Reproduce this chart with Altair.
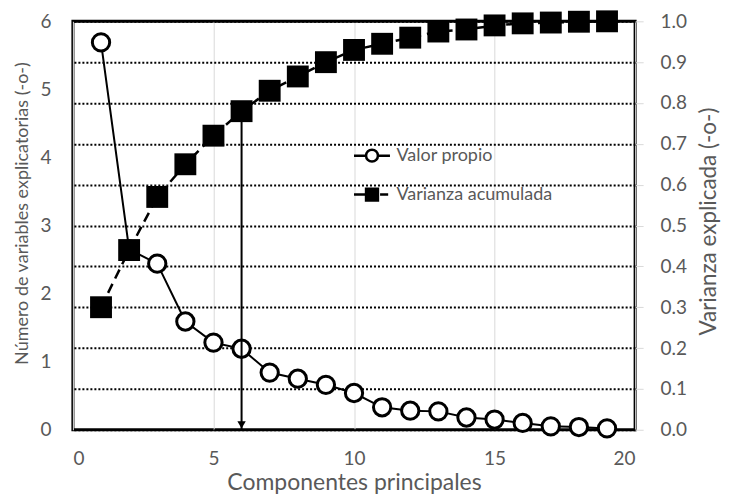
import altair as alt
import pandas as pd

# ---- data ----
componentes = list(range(1, 20))
valor_propio = [5.69, 2.65, 2.44, 1.59, 1.28, 1.19, 0.84, 0.75, 0.66, 0.54,
                0.33, 0.28, 0.27, 0.18, 0.15, 0.10, 0.05, 0.04, 0.02]
varianza_acumulada = [0.30, 0.44, 0.57, 0.65, 0.72, 0.78, 0.83, 0.865, 0.90, 0.93,
                      0.945, 0.96, 0.975, 0.98, 0.99, 0.995, 0.997, 0.999, 1.0]
series = ["Valor propio", "Varianza acumulada"]
x_ticks = [0, 5, 10, 15, 20]
y_left_ticks = [0, 1, 2, 3, 4, 5, 6]
y_right_ticks = [0.0, 0.1, 0.2, 0.3, 0.4, 0.5, 0.6, 0.7, 0.8, 0.9, 1.0]
corte = 6  # componentes retenidas (flecha)

df = pd.DataFrame({"comp": componentes, "vp": valor_propio, "va": varianza_acumulada})
arrow_df = df[df["comp"] == corte]
legend_df = pd.DataFrame({"serie": series})

FONT = "Lato"
GRAY = "#595959"

x_enc = alt.X("comp:Q", scale=alt.Scale(domain=[0, 20], nice=False),
              axis=alt.Axis(values=x_ticks, title="Componentes principales",
                            grid=True, gridColor="#d9d9d9", gridWidth=1,
                            ticks=False, domain=False, labelPadding=20,
                            labelFontSize=19, titleFontSize=23, titlePadding=3))

y_left = alt.Y("vp:Q", scale=alt.Scale(domain=[0, 6], nice=False),
               axis=alt.Axis(values=y_left_ticks, orient="left",
                             title="Número de variables explicatorias (-o-)",
                             grid=False, ticks=False, domain=False,
                             labelPadding=22, labelFontSize=19,
                             titleFontSize=18, titlePadding=8, titleY=192))

y_right_axis = alt.Axis(values=y_right_ticks, orient="right", format=".1f",
                        title="Varianza explicada (-o-)", titleAngle=270,
                        titleBaseline="top", titleY=200,
                        grid=True, gridColor="black", gridDash=[2, 2], gridWidth=2,
                        ticks=True, tickSize=8, tickColor="#d9d9d9", domain=False,
                        labelPadding=17, labelFontSize=19, titleFontSize=22.5,
                        titlePadding=11)
y_right = alt.Y("va:Q", scale=alt.Scale(domain=[0, 1], nice=False), axis=y_right_axis)

# ---- eigenvalue series ----
eig_line = alt.Chart(df).mark_line(color="black", strokeWidth=2).encode(x=x_enc, y=y_left)
eig_pts = alt.Chart(df).mark_point(shape="circle", filled=True, fill="white",
                                   stroke="black", strokeWidth=3, size=300,
                                   opacity=1).encode(x=x_enc, y=y_left)

# ---- legend (custom symbols: line + marker) ----
circ_path = ("M-1,0H-0.33M0.33,0H1M0.33,0A0.33,0.33 0 1,1 -0.33,0"
             "A0.33,0.33 0 1,1 0.33,0Z")
sq_path = "M-1,0H-0.33M0.45,0H0.9M-0.33,-0.33H0.33V0.33H-0.33Z"
leg = alt.Legend(title=None, orient="none", legendX=280, legendY=115,
                 labelFont=FONT, labelFontSize=18, labelColor=GRAY,
                 labelOffset=5, rowPadding=8, padding=0, symbolOpacity=1,
                 symbolSize=1296, symbolStrokeWidth=2.5, symbolStrokeColor="black")
legend_layer = alt.Chart(legend_df).transform_filter("false").mark_point(
    filled=True, stroke="black", strokeWidth=2.5, size=1296, opacity=1
).encode(
    shape=alt.Shape("serie:N", scale=alt.Scale(domain=series, range=[circ_path, sq_path]), legend=leg),
    fill=alt.Fill("serie:N", scale=alt.Scale(domain=series, range=["white", "black"]), legend=leg),
    stroke=alt.Stroke("serie:N", scale=alt.Scale(domain=series, range=["black", "black"]), legend=leg),
)

left = alt.layer(eig_line, eig_pts, legend_layer)

# ---- cumulative variance series ----
var_line = alt.Chart(df).mark_line(color="black", strokeWidth=2.5,
                                   strokeDash=[10, 6]).encode(x=x_enc, y=y_right)
var_pts = alt.Chart(df).mark_square(color="black", size=480, opacity=1).encode(x=x_enc, y=y_right)
arrow_rule = alt.Chart(arrow_df).mark_rule(color="black", strokeWidth=2).encode(
    x=x_enc, y=y_right, y2=alt.datum(0))
arrow_head = alt.Chart(arrow_df).mark_point(shape="triangle-down", filled=True,
                                            color="black", size=70, yOffset=-5,
                                            opacity=1).encode(x=x_enc, y=alt.datum(0))

right = alt.layer(var_line, var_pts, arrow_rule, arrow_head)

chart = alt.layer(left, right).resolve_scale(y="independent").properties(
    width=563, height=409,
    padding={"left": 5, "top": 2, "right": 5, "bottom": 0},
    background="white",
).configure_view(stroke="black", strokeWidth=3).configure_axis(
    labelFont=FONT, titleFont=FONT, labelColor=GRAY, titleColor=GRAY,
    titleFontWeight="normal"
)

chart.save("out.html", embed_options={"renderer": "svg", "actions": False})
